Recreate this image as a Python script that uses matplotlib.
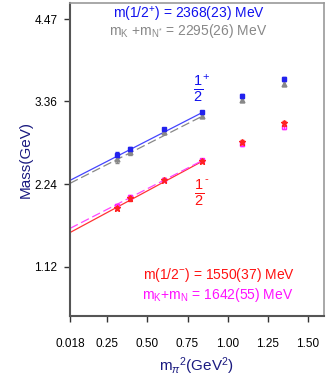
import numpy as np
import matplotlib.pyplot as plt

plt.rcParams['font.family'] = ['Liberation Sans', 'DejaVu Sans']
plt.rcParams['mathtext.fontset'] = 'custom'
plt.rcParams['mathtext.rm'] = 'Liberation Sans'
plt.rcParams['mathtext.it'] = 'Liberation Sans:italic'
plt.rcParams['mathtext.sf'] = 'Liberation Sans'

# m_pi^2 (GeV^2)
mpi2 = [0.312, 0.393, 0.605, 0.843, 1.087, 1.35]

# masses (GeV)
m_pos = [2.64, 2.71, 2.98, 3.21, 3.43, 3.66]
e_pos = [0.03, 0.03, 0.025, 0.02, 0.03, 0.03]
m_kn_star = [2.58, 2.68, 2.95, 3.16, 3.38, 3.60]
e_kn_star = [0.06, 0.04, 0.03, 0.025, 0.03, 0.03]
m_neg = [1.92, 2.045, 2.30, 2.55, 2.81, 3.06]
e_neg = [0.03, 0.03, 0.02, 0.02, 0.03, 0.03]
m_kn = [1.94, 2.06, 2.30, 2.56, 2.78, 3.01]
e_kn = [0.03, 0.03, 0.02, 0.02, 0.03, 0.03]

# chiral fits (endpoints)
fit_x = [0.018, 0.843]
fit_pos = [2.29, 3.21]
fit_kn_star = [2.25, 3.16]
fit_neg = [1.584, 2.55]
fit_kn = [1.64, 2.56]

xticks = [0.018, 0.25, 0.50, 0.75, 1.00, 1.25, 1.50]
xticklabels = ['0.018', '0.25', '0.50', '0.75', '1.00', '1.25', '1.50']
yticks = [1.12, 2.24, 3.36, 4.47]

fig = plt.figure(figsize=(3.27, 3.82), dpi=100)
ax = fig.add_axes([0.214, 0.173, 0.777, 0.819])

ax.plot(fit_x, fit_pos, color='#4444ff', lw=0.9)
ax.plot(fit_x, fit_kn_star, color='#888888', lw=0.9, ls=(0, (7, 3)))
ax.plot(fit_x, fit_neg, color='#ff3333', lw=0.9)
ax.plot(fit_x, fit_kn, color='#ff44ff', lw=0.9, ls=(0, (7, 3)))

ax.errorbar(mpi2, m_kn_star, yerr=e_kn_star, fmt='^', color='#888888', ms=3.5,
            elinewidth=0.8, capsize=1.5)
ax.errorbar(mpi2, m_pos, yerr=e_pos, fmt='s', color='#2222ee', ms=3.2,
            elinewidth=0.8, capsize=1.5)
ax.errorbar(mpi2, m_kn, yerr=e_kn, fmt='s', color='#ff22ff', mfc='none', ms=3.5,
            elinewidth=0.8, capsize=1.5)
ax.errorbar(mpi2, m_neg, yerr=e_neg, fmt='*', color='#ff2222', ms=4.5,
            elinewidth=0.8, capsize=1.5)

ax.set_xlim(0.018, 1.6)
ax.set_ylim(0.456, 4.69)
ax.set_xticks(xticks)
ax.set_xticklabels(xticklabels)
ax.set_yticks(yticks)
ax.set_yticklabels(['%.2f' % v for v in yticks])
ax.tick_params(direction='out', length=4, width=1, labelsize=8.5, colors='#333333',
               labelcolor='black')
ax.tick_params(axis='x', pad=12)
ax.tick_params(axis='y', pad=5)
for s in ax.spines.values():
    s.set_color('#999999')
    s.set_linewidth(1.2)
for s in ('left', 'bottom'):
    ax.spines[s].set_color('#555555')
    ax.spines[s].set_linewidth(1.5)

ax.set_xlabel(r'm$_\pi$$^2$(GeV$^2$)', color='#1a1a80', fontsize=11, labelpad=4)
ax.set_ylabel('Mass(GeV)', color='#1a1a80', fontsize=11, labelpad=1)

ax.text(0.47, 0.965, r'm(1/2$^{+}$) = 2368(23) MeV', transform=ax.transAxes,
        color='#1111ee', fontsize=10, ha='center', va='center')
ax.text(0.465, 0.91, r'm$_{\rm K}$ +m$_{\rm N^{*}}$ = 2295(26) MeV', transform=ax.transAxes,
        color='#888888', fontsize=10, ha='center', va='center')
ax.text(0.585, 0.13, r'm(1/2$^{-}$) = 1550(37) MeV', transform=ax.transAxes,
        color='#ff1111', fontsize=10, ha='center', va='center')
ax.text(0.583, 0.068, r'm$_{\rm K}$+m$_{\rm N}$ = 1642(55) MeV', transform=ax.transAxes,
        color='#ff11ff', fontsize=10, ha='center', va='center')

ax.text(0.505, 0.725, r'$\frac{1}{2}$', transform=ax.transAxes,
        color='#1111ee', fontsize=15, ha='center', va='center')
ax.text(0.535, 0.765, '+', transform=ax.transAxes,
        color='#1111ee', fontsize=8, ha='center', va='center')
ax.text(0.51, 0.395, r'$\frac{1}{2}$', transform=ax.transAxes,
        color='#ff1111', fontsize=15, ha='center', va='center')
ax.text(0.538, 0.437, '-', transform=ax.transAxes,
        color='#ff1111', fontsize=8, ha='center', va='center')

fig.savefig('out.png', dpi=100)
